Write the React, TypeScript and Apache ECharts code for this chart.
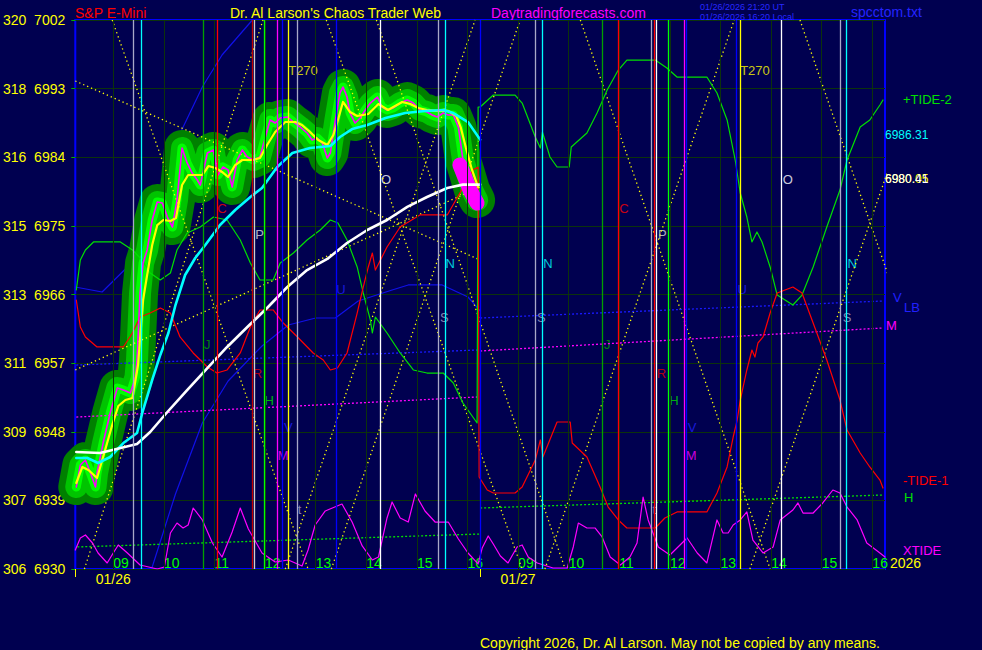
import React, { useEffect, useRef } from "react";
import * as echarts from "echarts";

const BG = "#000050";
const GRIDC = "#0c320c";
const FONT = '"Liberation Sans", Arial, sans-serif';

// ---- axes ----
const priceTicks = [6930, 6939, 6948, 6957, 6966, 6975, 6984, 6993, 7002];
const indexLabels = ["306", "307", "309", "311", "313", "315", "316", "318", "320"];
// session hours: day 1 08:15-16:15 = 8.25..16.25, day 2 = hour + 8
const hourTicks = [9, 10, 11, 12, 13, 14, 15, 16, 17, 18, 19, 20, 21, 22, 23, 24];
const hourLabels = ["09", "10", "11", "12", "13", "14", "15", "16", "09", "10", "11", "12", "13", "14", "15", "16"];
const dayTicks = [8.25, 16.25];
const dayLabelPos = [9, 17];
const dayLabels = ["01/26", "01/27"];

// ---- vertical event lines ----
const vLineX = [9.4, 9.55, 10.78, 11.06, 11.75, 11.79, 11.98, 12.24, 12.34, 12.46, 12.64, 13.41, 14.28, 15.42, 15.56, 16.25,
  17.34, 17.48, 18.66, 18.98, 19.63, 19.69, 19.73, 19.96, 20.28, 20.32, 21.31, 21.39, 22.2, 23.36, 23.48];
const vLineColor = ["#a8a8c8", "#00ffff", "#00a000", "#ff0000", "#c00000", "#d0d0d0", "#00ff00", "#ff00ff", "#0000ff", "#ffff00", "#a8a8c8", "#0000ff", "#ffffff", "#a8a8c8", "#00ffff", "#0000ff",
  "#a8a8c8", "#00ffff", "#00a000", "#ff0000", "#a8a8c8", "#ff0000", "#ffffff", "#00ff00", "#ff00ff", "#0000ff", "#0000ff", "#ffff00", "#ffffff", "#a8a8c8", "#00ffff"];

// ---- letters on the chart ----
const letterText = ["T270", "C", "P", "O", "N", "U", "S", "J", "R", "H", "V", "M", "t",
  "T270", "C", "P", "O", "N", "N", "U", "S", "S", "J", "R", "H", "V", "M", "t"];
const letterX = [12.75, 11.15, 11.89, 14.39, 15.66, 13.5, 15.54, 10.86, 11.85, 12.08, 12.46, 12.36, 12.68,
  21.68, 19.09, 19.85, 22.33, 17.59, 23.6, 21.43, 17.46, 23.5, 18.76, 19.83, 20.08, 20.44, 20.42, 19.69];
const letterY = [6995.44, 6977.34, 6973.93, 6981.02, 6970.13, 6966.72, 6962.92, 6959.38, 6955.7, 6952.16, 6948.62, 6944.82, 6937.74,
  6995.44, 6977.34, 6973.93, 6981.02, 6970.13, 6970.13, 6966.72, 6962.92, 6962.92, 6959.38, 6955.7, 6952.16, 6948.62, 6944.82, 6937.74];
const letterColor = ["#ffff00", "#ff0000", "#e0e0e0", "#ffffff", "#00ffff", "#2020ff", "#a8a8c8", "#00a000", "#e00000", "#00e000", "#2020ff", "#ff00ff", "#a8a8c8",
  "#ffff00", "#ff0000", "#e0e0e0", "#ffffff", "#00ffff", "#00ffff", "#2020ff", "#a8a8c8", "#a8a8c8", "#00a000", "#e00000", "#00e000", "#2020ff", "#ff00ff", "#a8a8c8"];

// ---- price (S&P E-mini) ----
const priceLine = [[8.27,6940.75],[8.35,6943.64],[8.45,6944.29],[8.55,6942.59],[8.65,6940.75],[8.68,6942.59],[8.8,6946.52],[8.94,6950.46],[9.08,6953.74],[9.2,6953.47],[9.34,6953.08],[9.44,6955.18],[9.47,6957.41],[9.53,6966.2],[9.59,6970.13],[9.67,6971.84],[9.77,6975.77],[9.87,6978.13],[9.97,6978.0],[10.07,6976.16],[10.17,6974.85],[10.26,6978.39],[10.36,6985.21],[10.46,6983.25],[10.56,6981.93],[10.66,6981.02],[10.72,6980.36],[10.86,6984.56],[10.98,6984.95],[11.07,6981.67],[11.17,6982.72],[11.27,6982.33],[11.35,6980.1],[11.45,6983.64],[11.55,6984.95],[11.65,6984.03],[11.77,6983.64],[11.9,6984.03],[12.0,6986.52],[12.1,6988.89],[12.2,6988.49],[12.3,6989.15],[12.44,6989.28],[12.56,6988.62],[12.69,6987.97],[12.83,6987.18],[12.93,6986.26],[13.03,6986.52],[13.13,6985.87],[13.23,6983.9],[13.29,6984.56],[13.39,6988.89],[13.48,6992.43],[13.54,6993.21],[13.62,6991.9],[13.68,6989.8],[13.78,6988.49],[13.88,6989.15],[13.98,6990.2],[14.08,6991.11],[14.22,6991.9],[14.31,6990.59],[14.41,6990.2],[14.53,6990.46],[14.67,6991.11],[14.81,6991.51],[14.93,6991.11],[15.06,6990.2],[15.2,6989.93],[15.3,6989.54],[15.4,6989.28],[15.52,6989.8],[15.62,6989.54],[15.72,6989.54],[15.82,6987.97],[15.91,6983.64],[15.99,6981.93],[16.09,6979.7],[16.19,6978.39]];
const priceBlob = [[15.85,6982.98],[16.05,6979.7],[16.19,6978.0]];
const yellowLine = [[8.27,6941.28],[8.39,6943.38],[8.51,6942.98],[8.68,6941.93],[8.84,6945.61],[8.98,6948.88],[9.1,6951.38],[9.24,6952.16],[9.38,6952.43],[9.49,6956.75],[9.59,6965.28],[9.67,6968.56],[9.77,6972.49],[9.87,6975.11],[9.99,6975.77],[10.13,6975.64],[10.24,6976.03],[10.36,6980.36],[10.48,6981.67],[10.62,6981.67],[10.76,6981.67],[10.88,6982.85],[11.02,6982.59],[11.15,6982.07],[11.27,6981.41],[11.41,6982.98],[11.55,6983.64],[11.75,6983.64],[11.9,6983.9],[12.04,6985.61],[12.2,6987.31],[12.4,6988.62],[12.6,6988.62],[12.73,6988.23],[12.89,6987.31],[13.05,6986.26],[13.23,6985.61],[13.35,6986.92],[13.44,6988.89],[13.54,6991.25],[13.68,6989.93],[13.82,6989.41],[14.04,6989.67],[14.24,6990.98],[14.43,6990.2],[14.57,6990.72],[14.71,6991.25],[14.87,6990.98],[15.03,6990.46],[15.2,6990.2],[15.4,6990.07],[15.62,6990.07],[15.78,6989.41],[15.87,6987.84],[15.97,6985.21],[16.09,6982.33],[16.21,6980.05]];
const cyanLine = [[8.27,6944.56],[8.49,6944.56],[8.7,6943.9],[8.94,6944.69],[9.2,6946.52],[9.47,6947.84],[9.59,6950.85],[9.77,6954.79],[9.93,6958.07],[10.09,6960.95],[10.23,6964.62],[10.42,6968.56],[10.62,6970.79],[10.82,6972.49],[11.11,6975.11],[11.41,6977.08],[11.71,6978.79],[11.94,6979.97],[12.24,6982.72],[12.54,6984.56],[12.89,6985.21],[13.29,6985.48],[13.48,6986.66],[13.72,6987.7],[14.02,6988.23],[14.38,6989.15],[14.77,6989.8],[15.16,6990.07],[15.52,6990.2],[15.72,6989.8],[16.01,6988.62],[16.25,6986.31]];
const whiteLine = [[8.27,6945.34],[8.74,6945.21],[9.47,6946.39],[9.73,6947.97],[10.07,6950.59],[10.46,6953.47],[10.86,6956.36],[11.25,6959.12],[11.65,6961.74],[12.04,6964.23],[12.44,6966.98],[12.83,6969.21],[13.23,6970.66],[13.62,6972.75],[14.02,6974.46],[14.41,6975.77],[14.81,6977.48],[15.2,6978.79],[15.6,6979.97],[15.91,6980.41],[16.25,6980.41]];

// ---- tides ----
const tide2Line = [[8.27,6966.59],[8.35,6970.52],[8.45,6971.84],[8.61,6972.89],[9.14,6972.89],[9.38,6971.84],[9.57,6970.52],[9.73,6968.82],[9.93,6967.9],[10.13,6968.82],[10.26,6971.84],[10.46,6974.07],[10.72,6974.85],[10.98,6976.16],[11.25,6975.77],[11.51,6973.15],[11.71,6970.13],[11.9,6967.9],[12.16,6967.9],[12.3,6970.13],[12.56,6971.44],[12.83,6973.15],[13.09,6974.46],[13.29,6975.77],[13.44,6975.38],[13.62,6973.15],[13.82,6969.61],[13.94,6966.2],[14.08,6962.66],[14.12,6960.95],[14.18,6963.05],[14.41,6960.95],[14.67,6958.33],[14.93,6956.1],[15.2,6955.7],[15.52,6955.7],[15.72,6954.39],[15.91,6951.77],[16.19,6949.15],[16.21,6990.59],[16.25,6990.59],[16.51,6992.16],[16.94,6992.16],[17.08,6991.11],[17.34,6986.66],[17.44,6985.21],[17.48,6987.31],[17.63,6984.03],[17.77,6982.72],[18.01,6982.72],[18.05,6985.34],[18.36,6987.18],[18.56,6989.8],[18.76,6992.82],[18.98,6995.44],[19.15,6996.75],[19.71,6996.75],[19.94,6995.7],[20.14,6994.52],[20.73,6994.52],[20.93,6992.43],[21.13,6988.89],[21.29,6983.64],[21.39,6979.31],[21.52,6976.16],[21.62,6972.89],[21.72,6974.2],[21.82,6972.89],[21.98,6969.61],[22.12,6965.93],[22.43,6964.62],[22.61,6965.93],[22.83,6969.61],[23.1,6974.85],[23.36,6979.7],[23.5,6983.64],[23.76,6987.97],[23.95,6988.89],[24.15,6990.85],[24.21,6991.51]];
const tide1Line = [[8.27,6965.28],[8.35,6961.74],[8.45,6960.43],[8.68,6959.12],[9.2,6959.12],[9.38,6960.95],[9.53,6963.05],[9.73,6963.57],[9.93,6964.23],[10.13,6963.57],[10.32,6960.43],[10.58,6958.33],[10.86,6956.49],[11.05,6955.7],[11.25,6956.1],[11.51,6958.33],[11.71,6961.74],[11.9,6963.97],[12.16,6963.97],[12.36,6962.26],[12.64,6960.43],[12.95,6958.33],[13.15,6957.41],[13.29,6956.1],[13.43,6956.36],[13.62,6958.33],[13.82,6963.57],[13.94,6966.98],[14.04,6969.61],[14.12,6971.44],[14.18,6969.21],[14.41,6972.23],[14.67,6974.85],[15.06,6976.43],[15.6,6976.43],[15.85,6979.31],[16.11,6982.33],[16.21,6982.72],[16.23,6942.07],[16.39,6940.36],[16.51,6939.97],[16.94,6939.97],[17.08,6940.75],[17.34,6944.29],[17.44,6946.92],[17.49,6944.69],[17.77,6949.28],[18.03,6949.28],[18.07,6946.52],[18.36,6944.69],[18.62,6940.75],[18.78,6938.13],[18.98,6936.43],[19.15,6935.38],[19.71,6935.38],[19.9,6936.69],[20.14,6937.48],[20.73,6937.48],[20.93,6939.97],[21.13,6943.38],[21.25,6947.31],[21.33,6949.54],[21.39,6952.16],[21.52,6956.1],[21.62,6958.72],[21.68,6957.8],[21.74,6959.64],[21.84,6960.43],[21.98,6963.57],[22.12,6966.2],[22.43,6966.98],[22.61,6966.2],[22.83,6962.26],[23.1,6957.41],[23.36,6952.16],[23.5,6948.23],[23.76,6945.21],[23.95,6943.38],[24.15,6941.67],[24.21,6940.62]];
const xtideLine = [[8.25,6932.49],[8.35,6934.07],[8.45,6934.46],[8.59,6933.41],[8.7,6932.1],[8.88,6930.79],[9.0,6932.1],[9.1,6933.15],[9.28,6932.1],[9.53,6930.52],[9.87,6930.0],[10.01,6930.26],[10.13,6934.72],[10.26,6936.03],[10.38,6935.38],[10.48,6935.77],[10.58,6938.0],[10.76,6936.43],[10.96,6933.41],[11.15,6931.57],[11.35,6934.85],[11.51,6938.0],[11.67,6935.25],[11.94,6932.1],[12.2,6930.92],[12.46,6931.18],[12.73,6930.39],[12.85,6932.49],[12.99,6935.77],[13.19,6937.61],[13.33,6938.0],[13.52,6938.52],[13.72,6936.16],[13.92,6933.02],[14.12,6931.18],[14.24,6931.57],[14.41,6936.69],[14.51,6938.79],[14.67,6936.69],[14.83,6936.16],[14.97,6939.84],[15.16,6937.61],[15.36,6936.16],[15.62,6936.16],[15.82,6933.93],[16.01,6932.1],[16.21,6930.66],[16.29,6932.75],[16.41,6934.33],[16.51,6933.28],[16.65,6931.7],[16.8,6930.79],[16.98,6932.89],[17.08,6933.15],[17.2,6931.57],[17.38,6930.79],[17.69,6930.13],[17.97,6930.13],[18.09,6932.89],[18.19,6936.03],[18.36,6935.38],[18.52,6935.38],[18.66,6934.2],[18.82,6931.57],[19.02,6930.52],[19.21,6931.57],[19.35,6933.41],[19.47,6939.44],[19.57,6936.43],[19.77,6932.89],[20.0,6931.84],[20.34,6934.07],[20.54,6932.1],[20.73,6930.79],[20.93,6936.43],[21.05,6934.72],[21.15,6934.72],[21.25,6935.77],[21.39,6936.43],[21.52,6937.48],[21.64,6933.8],[21.84,6932.1],[22.04,6932.89],[22.18,6936.43],[22.43,6937.74],[22.53,6938.66],[22.63,6937.34],[22.83,6937.34],[23.02,6938.66],[23.22,6940.36],[23.36,6939.97],[23.5,6938.13],[23.7,6936.43],[23.89,6933.41],[24.15,6932.1],[24.25,6931.57]];
const blueLineA = [[8.25,6966.98],[8.78,6966.33],[9.38,6970.26],[9.83,6974.33],[10.23,6985.87],[10.76,6993.21],[11.15,6997.41],[11.75,7002]];
const blueLineB = [[9.77,6930.26],[10.23,6939.84],[10.76,6949.15],[11.27,6954.66],[11.94,6959.25],[12.46,6962.0],[13.0,6962.92],[13.39,6962.92],[13.84,6965.15],[14.51,6966.59],[14.83,6967.25],[15.5,6967.25],[16.01,6965.67],[16.25,6963.84]];

// ---- dotted level lines (V/LB blue, M magenta, H green) ----
const blueDotted = [[[8.27,6956.75],[16.21,6958.72]], [[16.25,6962.92],[24.21,6965.15]]];
const magentaDotted = [[[8.27,6949.93],[16.19,6952.56]], [[16.25,6958.59],[24.21,6961.61]]];
const greenDotted = [[[8.29,6932.89],[16.25,6934.59]], [[16.25,6938.0],[24.21,6939.7]]];
// ---- yellow dotted fan lines ----
const yellowFans = [
  [[8.25,6994.0],[16.25,6970.52]], [[8.25,6956.1],[16.25,6980.1]],
  [[8.98,7002],[12.85,6930]], [[8.43,6930],[11.96,7002]], [[13.21,7002],[17.08,6930]],
  [[12.4,6930],[16.15,7002]], [[13.31,6930],[17.04,7002]], [[14.2,7002],[17.93,6930]],
  [[18.23,7002],[21.98,6930]], [[17.53,6930],[21.27,7002]], [[22.57,7002],[26.32,6930]], [[21.58,6930],[25.34,7002]],
];

function line(data: number[][], color: string, width: number, extra: any = {}) {
  return {
    type: "line", data, showSymbol: false, symbol: "none", silent: true, smooth: false,
    lineStyle: { color, width, cap: "round", join: "round", ...extra },
  };
}

function buildOption() {
  const series: any[] = [];
  // hour grid lines
  series.push({
    type: "line", data: [[8.25, 6930]], symbol: "none", silent: true, lineStyle: { opacity: 0 },
    markLine: {
      silent: true, symbol: ["none", "none"], label: { show: false },
      lineStyle: { color: GRIDC, width: 1, type: "solid" },
      data: hourTicks.map((h) => ({ xAxis: h })),
    },
  });
  // lines that sit under the glow
  series.push(line(blueLineA, "#1010e8", 1.2));
  series.push(line(blueLineB, "#1010e8", 1.2));
  // price glow
  series.push(line(priceLine, "#008000", 36));
  series.push(line(priceLine, "#00c400", 22));
  series.push(line(priceLine, "#00ff00", 9));
  // coloured event verticals
  series.push({
    type: "line", data: [[8.25, 6930]], symbol: "none", silent: true, lineStyle: { opacity: 0 },
    markLine: {
      silent: true, symbol: ["none", "none"], label: { show: false },
      data: vLineX.map((x, i) => ({ xAxis: x, lineStyle: { color: vLineColor[i], width: 1.3, type: "solid" } })),
    },
  });
  yellowFans.forEach((d) => series.push(line(d, "#ffff00", 1.3, { type: [1.3, 3], cap: "butt" })));
  blueDotted.forEach((d) => series.push(line(d, "#1818ff", 1.3, { type: [2, 2], cap: "butt" })));
  magentaDotted.forEach((d) => series.push(line(d, "#ff00ff", 1.3, { type: [2, 2], cap: "butt" })));
  greenDotted.forEach((d) => series.push(line(d, "#00e000", 1.3, { type: [2, 2], cap: "butt" })));
  series.push(line(tide2Line, "#00e000", 1.2));
  series.push(line(tide1Line, "#ff0000", 1.2));
  series.push(line(xtideLine, "#ff00ff", 1.2));
  series.push(line(priceBlob, "#ff00ff", 15));
  series.push(line(priceLine, "#ff00ff", 1.6));
  series.push(line(yellowLine, "#ffff00", 2.2));
  series.push(line(cyanLine, "#00ffff", 2.6));
  series.push(line(whiteLine, "#ffffff", 2.6));
  // letters
  series.push({
    type: "scatter", silent: true, symbolSize: 1, itemStyle: { color: "rgba(0,0,0,0)" },
    label: { show: true, position: "inside", formatter: "{b}", fontSize: 13, fontFamily: FONT },
    data: letterText.map((t, i) => ({ name: t, value: [letterX[i], letterY[i]], label: { color: letterColor[i] } })),
  });

  const txt = (text: string, x: number, y: number, fill: string, size = 14, align = "left") => ({
    type: "text", x, y, silent: true,
    style: { text, fill, font: `${size}px ${FONT}`, align, verticalAlign: "middle" },
  });

  return {
    animation: false,
    backgroundColor: BG,
    textStyle: { fontFamily: FONT },
    grid: { left: 75, right: 97, top: 20, bottom: 81, show: true, borderColor: "#0000ff", borderWidth: 2, backgroundColor: "transparent" },
    xAxis: [
      {
        type: "value", min: 8.25, max: 24.25, position: "bottom",
        axisLine: { show: false }, axisTick: { show: false }, splitLine: { show: false },
        axisLabel: {
          customValues: hourTicks, inside: true, color: "#00ff00", fontSize: 14, fontFamily: FONT, align: "left", margin: -1,
          formatter: (v: number) => { const i = hourTicks.findIndex((t) => Math.abs(t - v) < 1e-6); return i >= 0 ? hourLabels[i] : ""; },
        },
      },
      {
        type: "value", min: 8.25, max: 24.25, position: "bottom",
        axisLine: { show: false }, splitLine: { show: false },
        axisTick: { show: true, customValues: dayTicks, length: 8, lineStyle: { color: "#ffff00", width: 1 } },
        axisLabel: {
          customValues: dayLabelPos, color: "#ffff00", fontSize: 14, fontFamily: FONT, margin: 3,
          formatter: (v: number) => { const i = dayLabelPos.findIndex((t) => Math.abs(t - v) < 1e-6); return i >= 0 ? dayLabels[i] : ""; },
        },
      },
    ],
    yAxis: {
      type: "value", min: 6930, max: 7002, interval: 9, position: "left",
      axisLine: { show: false },
      axisTick: { show: true, length: 4, lineStyle: { color: "#00b000" } },
      splitLine: { show: true, lineStyle: { color: GRIDC, width: 1 } },
      axisLabel: {
        color: "#ffff00", fontSize: 14, fontFamily: FONT, margin: 10, verticalAlign: "middle", padding: [0, 0, 8, 0],
        formatter: (v: number) => { const i = priceTicks.indexOf(v); return i >= 0 ? `${indexLabels[i]}  ${v}` : ""; },
      },
    },
    graphic: [
      txt("S&P E-Mini", 75, 13, "#ff0000"),
      txt("Dr. Al Larson's Chaos Trader Web", 230, 13, "#ffff00"),
      txt("Daytradingforecasts.com", 491, 13, "#ff00ff"),
      txt("01/26/2026 21:20 UT", 700, 7, "#2828ff", 9),
      txt("01/26/2026 16:20 Local", 700, 17, "#2828ff", 9),
      txt("spcctom.txt", 851, 12, "#2424ff"),
      txt("Copyright 2026, Dr. Al Larson. May not be copied by any means.", 480, 643, "#ffff00"),
      txt("+TIDE-2", 903, 99, "#00e000", 13),
      txt("6986.31", 885, 135, "#00ffff", 12),
      txt("6980.05", 885, 179, "#ffff00", 12),
      txt("6980.41", 885, 179, "#ffffff", 12),
      txt("V", 893, 297, "#2020ff", 13),
      txt("LB", 904, 307, "#2020ff", 13),
      txt("M", 886, 325, "#ff00ff", 13),
      txt("-TIDE-1", 903, 480, "#ff0000", 13),
      txt("H", 904, 497, "#00e000", 13),
      txt("XTIDE", 903, 550, "#ff00ff", 13),
      txt("2026", 890, 563, "#ffff00", 14),
    ],
    series,
  };
}

export default function App() {
  const ref = useRef<HTMLDivElement>(null);
  useEffect(() => {
    document.body.style.margin = "0";
    document.body.style.background = BG;
    const chart = echarts.init(ref.current!, undefined, { renderer: "svg", width: 982, height: 650 });
    chart.setOption(buildOption() as any);
    return () => chart.dispose();
  }, []);
  return <div ref={ref} style={{ width: 982, height: 650 }} />;
}
